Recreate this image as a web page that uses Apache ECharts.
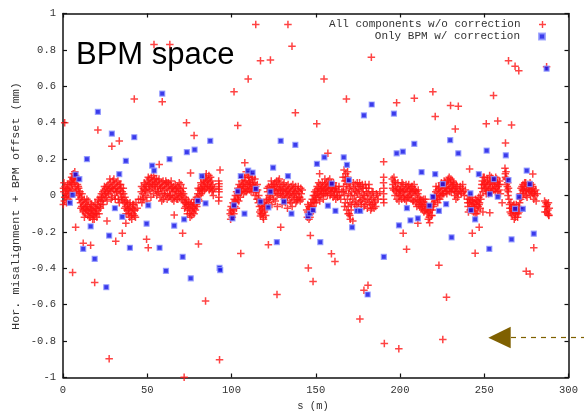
<!DOCTYPE html>
<html>
<head>
<meta charset="utf-8">
<script src="https://cdn.jsdelivr.net/npm/echarts@6/dist/echarts.min.js"></script>
<style>html,body{margin:0;padding:0;background:#fff;}#c{width:584px;height:412px;}</style>
</head>
<body>
<div id="c"></div>
<script>
// ---- axis settings ----
const xMin = 0, xMax = 300, xStep = 50;
const yMin = -1, yMax = 1, yStep = 0.2;
const seriesNames = ["All components w/o correction", "Only BPM w/ correction"];
const xTitle = "s (m)";
const yTitle = "Hor. misalignment + BPM offset (mm)";
const panelTitle = "BPM space";

// ---- red "+" : all components without correction (dense band), by s segments ----
const redBand0to22 = [[0.2,-0.05],[0.3,0.04],[0.5,0.02],[0.8,-0.03],[1.2,0.05],[1.5,0.01],[1.9,-0.01],[2.3,0.04],[2.6,0.0],[3.0,0.03],[3.3,-0.02],[3.7,0.06],[4.0,0.02],[4.4,0.08],[4.7,0.04],[5.1,0.1],[5.4,0.06],[5.8,0.09],[6.1,0.12],[6.5,0.07],[6.8,0.1],[7.2,0.05],[7.5,0.11],[7.9,0.08],[8.2,0.03],[8.6,0.06],[9.0,0.0],[9.3,0.04],[9.7,-0.02],[10.1,0.02],[10.4,-0.04],[10.8,-0.01],[11.1,-0.06],[11.5,-0.03],[11.8,-0.08],[12.2,-0.05],[12.6,-0.02],[12.9,-0.07],[13.3,-0.1],[13.6,-0.04],[14.0,-0.08],[14.4,-0.06],[14.7,-0.11],[15.1,-0.03],[15.4,-0.09],[15.8,-0.07],[16.2,-0.12],[16.5,-0.05],[16.9,-0.1],[17.2,-0.08],[17.6,-0.13],[18.0,-0.06],[18.3,-0.11],[18.7,-0.09],[19.0,-0.04],[19.4,-0.1],[19.8,-0.07],[20.1,-0.12],[20.5,-0.05],[20.8,-0.08],[21.2,-0.03],[21.6,-0.06]];
const redBand22to46 = [[22.0,-0.01],[22.4,-0.05],[22.8,0.01],[23.2,-0.03],[23.6,0.02],[24.0,-0.02],[24.4,0.03],[24.8,0.0],[25.2,0.04],[25.6,-0.01],[26.0,0.05],[26.4,0.02],[26.8,0.06],[27.2,0.01],[27.6,0.04],[28.0,0.07],[28.4,0.02],[28.8,0.05],[29.2,-0.01],[29.6,0.08],[30.0,0.03],[30.4,0.06],[30.8,0.0],[31.2,0.04],[31.6,0.07],[32.0,0.02],[32.4,0.05],[32.8,-0.02],[33.2,0.03],[33.6,0.06],[34.0,0.01],[34.4,0.04],[34.8,-0.01],[35.2,0.02],[35.6,-0.03],[36.0,0.01],[36.4,-0.04],[36.8,-0.01],[37.2,-0.06],[37.6,-0.03],[38.0,-0.08],[38.4,-0.05],[38.8,-0.1],[39.2,-0.07],[39.6,-0.12],[40.0,-0.06],[40.4,-0.09],[40.8,-0.13],[41.2,-0.07],[41.6,-0.1],[42.0,-0.05],[42.4,-0.11],[42.8,-0.08],[43.3,-0.04],[44.0,-0.07],[44.8,-0.02]];
const redBand46to68 = [[46.0,-0.02],[46.4,0.02],[46.8,-0.04],[47.2,0.01],[47.6,0.04],[48.0,-0.01],[48.4,0.03],[48.8,0.06],[49.2,0.0],[49.6,0.05],[50.0,0.08],[50.4,0.02],[50.8,0.06],[51.2,0.09],[51.6,0.03],[52.0,0.07],[52.4,0.1],[52.8,0.04],[53.2,0.08],[53.6,0.01],[54.0,0.06],[54.4,0.09],[54.8,0.03],[55.2,0.07],[55.6,0.0],[56.0,0.05],[56.4,0.08],[56.8,0.02],[57.2,0.06],[57.6,-0.01],[58.0,0.04],[58.4,0.07],[58.8,0.01],[59.2,0.05],[59.6,-0.02],[60.0,0.03],[60.4,0.06],[60.8,0.0],[61.2,0.04],[61.6,0.07],[62.0,0.01],[62.4,0.05],[62.8,-0.01],[63.2,0.03],[63.6,0.06],[64.0,0.0],[64.4,0.04],[64.8,-0.02],[65.2,0.02],[65.6,0.05],[66.0,-0.01],[66.4,0.03],[66.8,0.0],[67.2,0.04],[67.6,-0.02]];
const redBand68to93 = [[68.0,0.05],[68.4,0.01],[68.8,0.04],[69.2,-0.01],[69.6,0.03],[70.0,0.06],[70.4,0.0],[70.8,0.02],[71.2,-0.03],[71.6,0.01],[72.0,-0.04],[72.4,-0.01],[72.8,-0.06],[73.2,-0.02],[73.6,-0.05],[74.0,-0.08],[74.4,-0.03],[74.8,-0.07],[75.2,-0.1],[75.6,-0.05],[76.0,-0.08],[76.4,-0.11],[76.8,-0.06],[77.2,-0.09],[77.6,-0.04],[78.0,-0.07],[78.4,-0.02],[78.8,-0.05],[79.2,-0.01],[79.6,-0.04],[80.0,0.01],[80.4,-0.02],[80.8,0.03],[81.2,0.0],[81.6,0.04],[82.0,0.01],[82.4,0.06],[82.8,0.02],[83.2,0.05],[83.6,0.08],[84.0,0.03],[84.4,0.07],[84.8,0.1],[85.2,0.04],[85.6,0.08],[86.0,0.05],[86.4,0.09],[86.8,0.03],[87.2,0.07],[87.6,0.1],[88.0,0.05],[88.4,0.02],[88.8,0.06],[89.2,0.0],[92.4,0.08],[92.5,0.05],[92.6,0.02],[92.5,-0.01],[92.4,-0.03],[92.6,0.065],[92.5,0.035]];
const redBand99to121 = [[99.2,-0.1],[99.5,-0.13],[99.8,-0.06],[100.2,-0.09],[100.5,-0.12],[100.9,-0.04],[101.2,-0.08],[101.6,-0.02],[102.0,-0.06],[102.3,0.0],[102.7,-0.04],[103.0,0.02],[103.4,-0.02],[103.8,0.04],[104.1,0.0],[104.5,0.06],[104.9,0.02],[105.2,-0.01],[105.6,0.05],[106.0,0.08],[106.3,0.03],[106.7,0.06],[107.1,0.01],[107.4,0.07],[107.8,0.1],[108.2,0.04],[108.5,0.08],[108.9,0.02],[109.3,0.06],[109.6,0.11],[110.0,0.05],[110.4,0.08],[110.7,0.03],[111.1,0.07],[111.5,0.12],[111.8,0.04],[112.2,0.09],[112.6,0.06],[112.9,0.02],[113.3,0.07],[113.7,0.04],[114.0,0.0],[114.4,0.05],[114.8,0.02],[115.1,-0.02],[115.5,0.03],[115.9,-0.04],[116.2,0.0],[116.6,-0.06],[117.0,-0.03],[117.3,-0.08],[117.7,-0.05],[118.1,-0.1],[118.4,-0.07],[118.8,-0.12],[119.2,-0.04],[119.5,-0.09],[119.9,-0.06],[120.3,-0.11],[120.6,-0.03]];
const redBand121to144 = [[121.0,-0.02],[121.4,0.02],[121.8,-0.04],[122.2,0.0],[122.6,0.04],[123.0,-0.01],[123.4,0.03],[123.8,0.06],[124.0,-0.05],[124.2,0.01],[124.6,0.05],[125.0,-0.02],[125.4,0.03],[125.8,0.07],[126.2,0.02],[126.6,0.05],[127.0,0.0],[127.2,-0.06],[127.4,0.04],[127.8,0.08],[128.2,0.03],[128.6,0.06],[129.0,0.01],[129.4,0.05],[129.8,-0.01],[130.0,-0.05],[130.2,0.03],[130.6,0.06],[131.0,0.02],[131.4,-0.02],[131.8,0.04],[132.2,0.01],[132.6,0.05],[133.0,-0.01],[133.2,-0.07],[133.4,0.03],[133.8,0.0],[134.2,0.04],[134.6,-0.03],[135.0,0.02],[135.4,0.05],[135.8,-0.01],[136.0,-0.06],[136.2,0.03],[136.6,0.0],[137.0,0.04],[137.4,-0.02],[137.8,0.02],[138.2,-0.04],[138.6,0.01],[139.0,-0.02],[139.4,0.03],[139.8,-0.01],[140.2,0.02],[140.8,-0.03],[141.4,0.01],[142.0,0.03]];
const redBand144to166 = [[144.6,-0.08],[145.0,-0.12],[145.3,-0.05],[145.7,-0.1],[146.0,-0.13],[146.4,-0.07],[146.8,-0.1],[147.1,-0.04],[147.5,-0.08],[147.9,-0.02],[148.2,-0.06],[148.6,0.0],[149.0,-0.04],[149.3,0.02],[149.7,-0.02],[150.1,0.03],[150.4,-0.01],[150.8,0.05],[151.2,0.01],[151.5,0.04],[151.9,-0.01],[152.3,0.02],[152.6,0.06],[153.0,0.0],[153.4,0.04],[153.7,0.01],[154.1,0.05],[154.5,-0.02],[154.8,0.03],[155.2,0.06],[155.6,0.01],[155.9,0.04],[156.3,0.07],[156.7,0.02],[157.0,0.05],[157.4,0.08],[157.8,0.03],[158.1,0.06],[158.5,0.0],[158.9,0.04],[159.2,0.07],[159.6,0.02],[160.0,0.05],[160.3,-0.01],[160.7,0.03],[161.1,0.0],[161.5,0.04],[161.9,-0.02],[162.4,0.02],[163.0,-0.01],[163.6,0.03],[164.2,0.0]];
const redBand166to191 = [[166.2,0.1],[166.5,0.05],[166.8,0.14],[167.0,0.0],[167.3,0.08],[167.5,-0.04],[167.8,0.12],[168.0,0.03],[168.3,-0.08],[168.5,0.06],[168.8,-0.02],[169.0,0.1],[169.3,-0.06],[169.5,0.01],[169.8,-0.1],[170.0,0.04],[170.3,-0.04],[170.5,-0.13],[170.8,0.0],[171.0,-0.08],[171.3,0.02],[172.0,-0.02],[172.0,-0.14],[172.5,0.04],[173.0,0.0],[173.4,0.06],[173.8,-0.03],[174.2,0.02],[174.6,0.07],[175.0,0.01],[175.4,-0.04],[175.8,0.03],[176.2,-0.01],[176.6,0.05],[177.0,-0.05],[177.4,0.02],[177.8,-0.02],[178.2,0.04],[178.6,-0.06],[179.0,0.0],[179.4,0.06],[179.8,-0.03],[180.2,0.02],[180.6,-0.07],[181.0,0.01],[181.4,0.04],[181.8,-0.04],[182.2,0.0],[182.6,-0.08],[183.0,-0.02],[183.4,0.02],[183.8,-0.05],[184.2,-0.01],[184.6,-0.07],[185.2,-0.03],[186.0,0.01],[187.0,-0.02],[190.2,0.07],[190.4,0.04],[190.3,0.01],[190.2,-0.02],[190.4,-0.04],[190.3,0.1]];
const redBand195to235 = [[195.4,0.09],[195.8,0.06],[196.2,0.03],[196.6,0.08],[197.0,0.0],[197.4,0.05],[197.8,0.02],[198.2,-0.02],[198.6,0.04],[199.0,0.01],[199.4,-0.03],[199.8,0.03],[200.2,0.0],[200.6,0.05],[201.0,-0.02],[201.4,0.02],[201.8,0.06],[202.2,-0.01],[202.6,0.03],[203.0,0.0],[203.4,0.04],[203.8,-0.03],[204.2,0.02],[204.6,0.05],[205.0,-0.01],[205.4,0.03],[205.8,0.0],[206.2,0.04],[206.6,-0.02],[207.0,0.01],[207.4,0.05],[207.8,0.02],[208.2,-0.03],[208.6,0.03],[209.0,0.0],[209.4,-0.04],[209.8,0.02],[210.2,-0.02],[210.6,0.01],[211.0,-0.05],[211.4,-0.01],[211.8,-0.06],[212.2,-0.02],[212.6,-0.07],[213.0,-0.03],[213.4,-0.08],[213.8,-0.04],[214.2,-0.09],[214.6,-0.05],[215.0,-0.02],[215.5,-0.07],[216.0,-0.1],[216.4,-0.06],[216.8,-0.13],[217.2,-0.09],[217.6,-0.15],[218.0,-0.08],[218.4,-0.11],[218.8,-0.05],[219.2,-0.08],[219.6,-0.02],[220.0,-0.05],[220.4,0.0],[220.8,-0.03],[221.2,0.02],[221.6,-0.01],[222.0,0.03],[222.4,-0.04],[222.8,0.01],[223.2,0.04],[223.6,-0.02],[224.0,0.02],[224.4,0.05],[224.8,0.0],[225.2,0.03],[225.6,0.06],[226.0,0.01],[226.4,0.04],[226.8,0.07],[227.2,0.02],[227.6,0.05],[228.0,0.08],[228.4,0.03],[228.8,0.06],[229.2,0.1],[229.6,0.04],[230.0,0.07],[230.4,0.02],[230.8,0.05],[231.2,0.08],[231.6,0.03],[232.0,0.06],[232.4,0.0],[232.8,0.04],[233.2,-0.02],[233.6,0.02],[234.0,0.05],[234.5,0.01]];
const redBand235to289 = [[235.2,0.03],[235.8,0.05],[236.4,0.01],[237.0,0.04],[237.6,0.02],[238.2,0.0],[238.8,0.03],[240.0,-0.02],[240.4,-0.06],[240.8,0.0],[241.2,-0.04],[241.6,-0.08],[242.0,-0.03],[242.4,-0.06],[242.8,-0.01],[243.2,-0.05],[243.6,-0.09],[244.0,-0.04],[244.4,-0.07],[244.8,-0.02],[245.2,-0.05],[245.6,-0.1],[246.0,-0.03],[246.4,-0.06],[246.8,-0.01],[247.2,-0.04],[247.6,-0.07],[248.0,-0.02],[248.4,0.04],[248.8,0.08],[249.2,0.02],[249.2,-0.09],[249.6,0.06],[250.0,0.1],[250.4,0.04],[250.8,0.07],[251.2,0.01],[251.6,0.05],[252.0,0.09],[252.4,0.03],[252.8,0.06],[253.2,0.11],[253.6,0.04],[254.0,0.08],[254.4,0.02],[254.8,0.06],[255.2,0.09],[255.6,0.03],[256.0,0.07],[256.4,0.05],[256.8,0.1],[257.2,0.04],[257.6,0.07],[258.0,0.02],[258.4,0.06],[258.8,0.03],[259.2,0.08],[259.6,0.01],[260.6,-0.04],[262.3,0.15],[262.6,0.1],[262.9,0.13],[263.1,0.06],[263.4,0.09],[263.6,0.03],[263.9,0.07],[264.1,0.0],[264.4,0.04],[264.7,-0.02],[265.0,-0.05],[265.4,-0.09],[265.8,-0.04],[266.2,-0.07],[266.6,-0.11],[267.0,-0.06],[267.4,-0.09],[267.8,-0.13],[268.2,-0.07],[268.6,-0.1],[269.0,-0.05],[269.4,-0.08],[269.8,-0.12],[270.2,-0.06],[270.6,-0.09],[271.0,-0.04],[271.4,0.01],[271.8,0.04],[272.2,-0.01],[272.6,0.03],[273.0,0.06],[273.4,0.01],[273.8,0.05],[274.2,0.02],[274.6,0.07],[275.0,0.03],[275.4,-0.01],[275.8,0.04],[276.2,0.06],[276.6,0.02],[277.0,0.05],[277.4,0.0],[277.8,0.03],[278.2,0.06],[278.6,0.01],[279.0,0.04],[279.4,-0.02],[279.8,0.02],[280.2,0.0],[280.8,-0.03],[281.4,0.01],[285.8,-0.03],[286.2,-0.06],[286.6,-0.04],[287.0,-0.09],[287.4,-0.05],[287.8,-0.08],[288.3,-0.11],[288.6,-0.07]];
// extra red points filling the band
const redFill0to46 = [[0.6,0.07],[1.0,-0.01],[1.7,0.03],[2.1,-0.04],[2.8,0.06],[3.5,0.01],[4.2,-0.01],[4.9,0.07],[5.6,0.03],[6.3,0.09],[7.0,0.13],[7.7,0.02],[8.4,0.09],[9.1,0.05],[9.9,0.01],[10.6,-0.07],[11.3,0.01],[12.0,-0.09],[12.7,-0.12],[13.5,-0.06],[14.2,-0.02],[14.9,-0.08],[15.6,-0.12],[16.3,-0.08],[17.0,-0.05],[17.8,-0.1],[18.5,-0.13],[19.2,-0.07],[19.9,-0.1],[20.7,-0.02],[21.4,-0.1],[22.2,-0.07],[23.0,-0.01],[23.8,-0.05],[24.6,0.05],[25.4,0.01],[26.2,-0.03],[27.0,0.03],[27.8,0.09],[28.6,-0.02],[29.4,0.04],[30.2,0.09],[31.0,-0.02],[31.8,0.02],[32.6,0.08],[33.4,-0.04],[34.2,0.06],[35.0,-0.02],[35.8,0.04],[36.6,-0.07],[37.4,-0.1],[38.2,-0.04],[39.0,-0.08],[39.8,-0.04],[40.6,-0.11],[41.4,-0.05],[42.2,-0.08],[43.0,-0.12]];
const redFill46to93 = [[46.6,0.05],[47.4,-0.02],[48.2,0.07],[49.0,0.03],[49.8,-0.03],[50.6,0.1],[51.4,0.05],[52.2,-0.01],[53.0,0.06],[53.8,0.11],[54.6,0.05],[55.4,0.09],[56.2,0.02],[57.0,0.09],[57.8,0.04],[58.6,-0.03],[59.4,0.08],[60.2,0.01],[61.0,0.08],[61.8,-0.02],[62.6,0.07],[63.4,0.0],[64.2,0.08],[65.0,0.04],[65.8,-0.03],[66.6,0.06],[67.4,0.02],[68.2,-0.02],[69.0,0.07],[69.8,0.01],[70.6,-0.02],[71.4,0.04],[72.2,-0.07],[73.0,-0.04],[73.8,-0.1],[74.6,-0.05],[75.4,-0.12],[76.2,-0.04],[77.0,-0.07],[77.8,-0.1],[78.6,-0.08],[79.4,-0.06],[80.2,0.04],[81.0,-0.03],[81.8,0.07],[82.6,0.03],[83.4,0.09],[84.2,0.05],[85.0,0.12],[85.8,0.06],[86.6,0.11],[87.4,0.04],[88.2,0.08],[89.0,0.03],[89.8,0.04]];
const redFill99to145 = [[99.4,-0.08],[100.0,-0.11],[100.7,-0.07],[101.4,-0.1],[102.1,-0.03],[102.9,-0.07],[103.6,0.01],[104.3,-0.03],[105.0,0.04],[105.8,0.02],[106.5,0.1],[107.2,0.05],[108.0,0.02],[108.7,0.13],[109.5,0.03],[110.2,0.1],[110.9,0.06],[111.6,0.02],[112.4,0.1],[113.1,0.05],[113.9,0.09],[114.6,0.03],[115.3,0.06],[116.0,-0.02],[116.8,-0.09],[117.5,-0.1],[118.3,-0.06],[119.0,-0.13],[119.7,-0.08],[120.4,-0.06],[121.2,0.04],[122.0,0.05],[122.8,-0.02],[123.6,0.08],[124.4,0.03],[125.2,0.06],[126.0,-0.03],[126.8,0.08],[127.6,0.01],[128.4,0.09],[129.2,0.03],[130.4,0.0],[131.2,0.07],[132.0,-0.04],[132.8,0.02],[133.6,0.06],[134.4,0.01],[135.2,-0.04],[136.4,0.06],[137.2,0.01],[138.0,0.05],[138.8,-0.03],[139.6,0.05],[140.5,-0.01],[141.1,0.04],[141.8,-0.02]];
const redFill145to191 = [[145.2,-0.09],[145.9,-0.06],[146.6,-0.12],[147.3,-0.06],[148.0,-0.09],[148.8,-0.03],[149.5,0.0],[150.2,-0.04],[151.0,0.02],[151.7,0.07],[152.4,-0.03],[153.2,0.03],[153.9,0.07],[154.6,0.01],[155.4,0.09],[156.1,0.03],[156.9,0.0],[157.6,0.06],[158.3,0.09],[159.0,0.01],[159.8,0.04],[160.5,0.07],[161.3,0.02],[162.0,0.05],[162.8,0.0],[163.8,0.05],[164.8,-0.02],[165.5,0.02],[166.4,0.02],[167.1,-0.06],[167.6,0.1],[168.2,0.08],[168.9,0.13],[169.2,-0.1],[169.7,0.07],[170.2,-0.11],[170.6,0.05],[171.2,-0.05],[172.3,0.07],[173.2,-0.05],[173.6,0.03],[174.4,-0.06],[175.2,0.05],[176.0,0.07],[176.8,-0.03],[177.6,0.06],[178.4,0.0],[179.2,-0.05],[180.0,0.04],[180.8,-0.02],[181.6,0.06],[182.4,-0.05],[183.2,-0.07],[184.0,0.02],[184.8,-0.04],[185.6,-0.06],[186.6,0.0],[188.0,0.02]];
const redFill195to240 = [[195.6,0.04],[196.4,0.1],[197.2,0.07],[198.0,0.03],[198.8,0.07],[199.6,0.0],[200.4,0.03],[201.2,0.07],[202.0,0.02],[202.8,-0.02],[203.6,0.06],[204.4,-0.01],[205.2,0.06],[206.0,0.02],[206.8,0.05],[207.6,-0.03],[208.4,0.06],[209.2,0.03],[210.0,-0.06],[210.8,0.03],[211.6,-0.03],[212.4,-0.05],[213.2,-0.06],[214.0,-0.02],[214.8,-0.08],[215.8,-0.05],[216.6,-0.09],[217.4,-0.12],[218.2,-0.06],[219.0,-0.11],[219.8,-0.06],[220.6,-0.02],[221.4,0.05],[222.2,-0.02],[223.0,0.05],[223.8,0.0],[224.6,0.07],[225.4,0.01],[226.2,0.08],[227.0,0.04],[227.8,0.01],[228.6,0.09],[229.4,0.02],[230.2,0.09],[231.0,0.04],[231.8,0.07],[232.6,0.02],[233.4,0.06],[234.2,-0.01],[236.0,0.02],[237.2,0.06]];
const redFill240to289 = [[240.2,-0.04],[240.6,-0.09],[241.4,-0.02],[242.2,-0.08],[243.0,-0.03],[243.8,-0.06],[244.6,-0.1],[245.4,-0.03],[246.2,-0.08],[247.0,-0.05],[247.8,0.0],[248.6,0.06],[249.4,0.1],[250.2,0.06],[251.0,0.03],[251.8,0.08],[252.6,0.01],[253.4,0.07],[254.2,0.1],[255.0,0.04],[255.8,0.08],[256.6,0.02],[257.4,0.09],[258.2,0.05],[259.0,0.06],[262.5,0.12],[263.0,0.09],[263.7,0.05],[264.3,0.02],[265.2,-0.07],[266.0,-0.1],[266.8,-0.08],[267.6,-0.05],[268.4,-0.12],[269.2,-0.09],[270.0,-0.1],[270.8,-0.07],[271.6,-0.02],[272.4,0.05],[273.2,0.03],[274.0,0.07],[274.8,0.0],[275.6,0.06],[276.4,0.03],[277.2,0.07],[278.0,0.02],[278.8,0.05],[279.6,0.01],[280.5,0.03],[286.0,-0.09],[286.9,-0.06],[287.6,-0.1],[288.1,-0.04]];
const redOutliersHigh = [[1,0.40],[54,0.83],[63.4,0.83],[42.3,0.53],[58.9,0.515],[20.7,0.36],[29,0.27],[33.4,0.30],[57.1,0.17],[73.3,0.40],[77.8,0.33],[75.7,0.124],[93.2,0.14],[101.5,0.57],[103.7,0.385],[109.9,0.64],[107.9,0.18],[114.4,0.94],[117.2,0.74],[123.1,0.745],[133.5,0.94],[135.9,0.82],[137.9,0.455],[183,0.76],[154.9,0.64],[168.2,0.53],[150.6,0.394],[198,0.51],[208.5,0.535],[219.5,0.57],[220.9,0.434],[230,0.495],[234.6,0.49],[232.8,0.365],[255.5,0.55],[258,0.41],[251.2,0.394],[266.2,0.387],[262.6,0.288],[264.4,0.74],[268.3,0.71],[270.5,0.686],[287,0.708],[190.3,0.186],[241.3,0.146],[157.2,0.232],[278.8,0.118],[152.3,0.12]];
const redOutliersLow = [[7.5,-0.175],[5.7,-0.423],[12,-0.263],[16.4,-0.273],[18.8,-0.478],[27.4,-0.897],[26.1,-0.14],[31.3,-0.252],[35.2,-0.208],[37.3,-0.153],[49.6,-0.241],[50.6,-0.287],[66,-0.107],[71,-0.208],[80.4,-0.267],[84.6,-0.58],[92.9,-0.903],[71.9,-0.998],[105.5,-0.318],[121.9,-0.27],[129.2,-0.175],[127,-0.544],[117.2,-0.113],[146.8,-0.22],[145.6,-0.398],[148.4,-0.473],[159.3,-0.32],[161.4,-0.363],[181,-0.493],[178.6,-0.52],[176.2,-0.679],[190.7,-0.813],[199.3,-0.842],[201.9,-0.207],[203.9,-0.296],[210.6,-0.153],[223.1,-0.383],[227.6,-0.559],[225.4,-0.791],[242.9,-0.207],[244.6,-0.317],[247,-0.175],[253.3,-0.095],[274.9,-0.416],[277.2,-0.432],[279.4,-0.287],[288.3,-0.109]];

// ---- blue "*" : only BPM with correction ----
const blueHigh = [[20.7,0.46],[29,0.34],[42.3,0.32],[58.9,0.56],[14.2,0.20],[37.3,0.19],[33.4,0.117],[52.9,0.164],[54.1,0.137],[63.2,0.20],[73.5,0.238],[78.1,0.252],[87.4,0.30],[82.4,0.106],[7.5,0.115],[9.7,0.09],[5.7,0.003],[103.7,0.023],[105.5,0.106],[109.9,0.137],[112.5,0.126],[114.4,0.036],[123.1,0.021],[124.7,0.153],[129.2,0.30],[133.5,0.107],[137.9,0.278],[178.6,0.44],[183.2,0.50],[196.4,0.45],[150.7,0.174],[155.1,0.21],[166.6,0.21],[168.5,0.168],[169.7,0.085],[198,0.232],[201.7,0.241],[208.5,0.284],[212.8,0.128],[220.9,0.117],[229.8,0.304],[234.6,0.232],[246.8,0.117],[251.4,0.247],[262.8,0.221],[264.4,0.085],[275.2,0.137],[277,0.063],[287,0.697],[159.5,0.065],[225.4,0.063],[253.3,0.007],[255.7,0.09],[241.8,0.012]];
const blueLow = [[4.1,-0.04],[30.8,-0.07],[50.6,-0.054],[80,-0.03],[84.6,-0.043],[101.5,-0.054],[117.2,-0.034],[121.9,-0.065],[131.1,-0.034],[258,-0.007],[270.5,-0.007],[219.5,-0.007],[157.2,-0.056],[227.4,-0.047],[217.5,-0.056],[12,-0.293],[16.4,-0.17],[18.8,-0.348],[25.7,-0.504],[27.4,-0.22],[35.2,-0.117],[39.7,-0.287],[49.6,-0.155],[57.3,-0.287],[61.1,-0.414],[66,-0.166],[71,-0.337],[71.9,-0.131],[75.8,-0.455],[92.9,-0.398],[93.3,-0.41],[100.6,-0.126],[107.7,-0.1],[126.9,-0.256],[135.6,-0.1],[152.7,-0.256],[171.6,-0.175],[190.4,-0.337],[180.8,-0.544],[199.4,-0.164],[206.2,-0.137],[210.6,-0.126],[230.6,-0.23],[253,-0.293],[244.6,-0.131],[266.2,-0.241],[279.4,-0.21],[145.4,-0.113],[146.4,-0.098],[148.4,-0.08],[161.7,-0.084],[174.5,-0.085],[176.4,-0.085],[204.1,-0.069],[223.1,-0.085],[242.1,-0.08],[268.3,-0.074],[272.9,-0.074]];

const redData = [].concat(redBand0to22, redBand22to46, redBand46to68, redBand68to93, redBand99to121,
  redBand121to144, redBand144to166, redBand166to191, redBand195to235, redBand235to289,
  redFill0to46, redFill46to93, redFill99to145, redFill145to191, redFill195to240, redFill240to289,
  redOutliersHigh, redOutliersLow);
const blueData = [].concat(blueHigh, blueLow);

const PLUS = 'path://M4,0H6V4H10V6H6V10H4V6H0V4H4Z';
const SQUARE = 'path://M0,0H10V10H0Z';
const MONO = '"Liberation Mono", "DejaVu Sans Mono", monospace';
const RED = '#ff1414', BLUE = '#0a0ae6';
const fmt = v => String(Math.round(v * 10) / 10);

const axisLine = {show: true, onZero: false, lineStyle: {color: '#111', width: 1.5}};
const tick = {show: true, inside: true, length: 4, lineStyle: {color: '#111', width: 1.2}};

const chart = echarts.init(document.getElementById('c'), null, {renderer: 'canvas'});
chart.setOption({
  animation: false,
  backgroundColor: '#fff',
  grid: {left: 63, right: 15.5, top: 13.5, bottom: 34.5, containLabel: false, outerBoundsMode: 'none'},
  xAxis: [
    {type: 'value', min: xMin, max: xMax, interval: xStep, position: 'bottom',
     axisLine, axisTick: tick, splitLine: {show: false},
     axisLabel: {color: '#333', fontFamily: MONO, fontSize: 10.5, margin: 7, formatter: fmt}},
    {type: 'value', min: xMin, max: xMax, interval: xStep, position: 'top',
     axisLine, axisTick: tick, splitLine: {show: false}, axisLabel: {show: false}}
  ],
  yAxis: [
    {type: 'value', min: yMin, max: yMax, interval: yStep, position: 'left',
     axisLine, axisTick: tick, splitLine: {show: false},
     axisLabel: {color: '#333', fontFamily: MONO, fontSize: 10.5, margin: 7, formatter: fmt}},
    {type: 'value', min: yMin, max: yMax, interval: yStep, position: 'right',
     axisLine, axisTick: tick, splitLine: {show: false}, axisLabel: {show: false}}
  ],
  legend: [
    {data: [{name: seriesNames[0], icon: PLUS}], right: 38, top: 19, padding: 0, align: 'right',
     itemWidth: 34, itemHeight: 7, selectedMode: false,
     textStyle: {color: '#333', fontFamily: MONO, fontSize: 11}},
    {data: [{name: seriesNames[1], icon: SQUARE}], right: 38, top: 31, padding: 0, align: 'right',
     itemWidth: 34, itemHeight: 6, selectedMode: false,
     textStyle: {color: '#333', fontFamily: MONO, fontSize: 11}}
  ],
  series: [
    {name: seriesNames[0], type: 'scatter', symbol: PLUS, symbolSize: 7.5,
     itemStyle: {color: RED}, data: redData, silent: true},
    {name: seriesNames[1], type: 'scatter', symbol: 'rect', symbolSize: 5,
     itemStyle: {color: BLUE, borderColor: '#8f96ff', borderWidth: 1.2}, data: blueData, silent: true}
  ],
  graphic: [
    {type: 'text', left: 76, top: 40,
     style: {text: panelTitle, font: '31px "Liberation Sans", Arial, sans-serif', fill: '#000'}},
    {type: 'text', x: 16, y: 206, rotation: Math.PI / 2,
     style: {text: yTitle, font: '11.8px "Liberation Mono", "DejaVu Sans Mono", monospace', fill: '#333',
             align: 'center', verticalAlign: 'middle'}},
    {type: 'text', x: 313, y: 406,
     style: {text: xTitle, font: '10.5px "Liberation Mono", "DejaVu Sans Mono", monospace', fill: '#333',
             align: 'center', verticalAlign: 'middle'}},
    {type: 'polygon', shape: {points: [[488.3, 337.7], [510.7, 326.7], [510.7, 348.3]]},
     style: {fill: '#7f6000'}},
    {type: 'line', shape: {x1: 511, y1: 337.5, x2: 584, y2: 337.5},
     style: {stroke: '#7f6000', lineWidth: 1.2, lineDash: [5, 5]}}
  ]
});
</script>
</body>
</html>
